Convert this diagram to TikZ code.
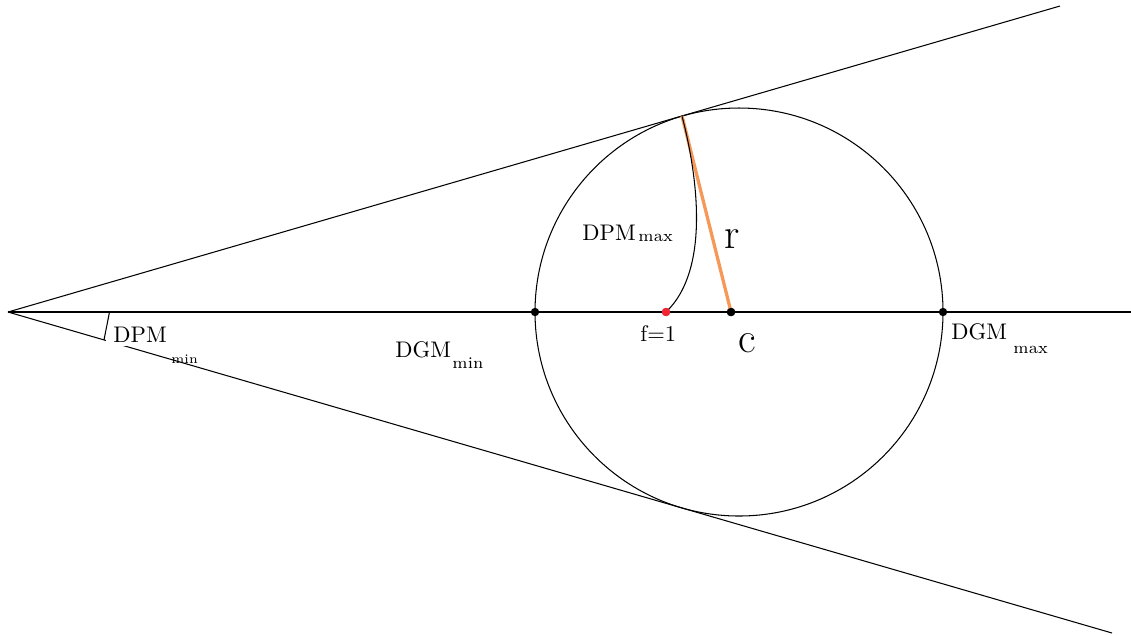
\documentclass[tikz,border=0pt]{standalone}
\usepackage{tikz}
\definecolor{myorange}{RGB}{246,152,88}
\definecolor{myred}{RGB}{240,36,52}
\begin{document}
\begin{tikzpicture}[x=0.43pt,y=-0.43pt,
  thinline/.style={line width=0.45pt},
  dotb/.style={circle,fill=black,inner sep=0pt,minimum size=3.6pt},
  dotr/.style={circle,fill=myred,inner sep=0pt,minimum size=3.6pt},
  lbl/.style={inner sep=0pt,anchor=base west,font=\fontsize{9.7}{11}\selectfont},
  sub/.style={inner sep=0pt,anchor=base west,font=\scriptsize},
  big/.style={inner sep=0pt,anchor=base west,font=\fontsize{18.5}{20}\selectfont}]
\useasboundingbox (0,0) rectangle (1131,635);
% points
\coordinate (apex) at (8,312);
\coordinate (ctr) at (739,312);
\coordinate (tp) at (682,116);
\coordinate (upend) at (1060,6);
\coordinate (lowend) at (1112,633);
\coordinate (axend) at (1131,312);
\coordinate (angA) at (109.5,312);
\coordinate (angB) at (104,339.9);
% lines
\draw[thinline] (apex) -- (upend);
\draw[thinline] (apex) -- (lowend);
\draw[thinline] (apex) -- (axend);
\draw[thinline] (ctr) circle[radius=204];
% nodes on axis
\node[dotr] (f) at (666,312) {};
\node[dotb] (c) at (731,312) {};
\node[dotb] (l) at (535,312) {};
\node[dotb] (rr) at (943,312) {};
% radius and DPM max curve
\draw[myorange,line width=1.4pt] (tp) -- (c.center);
\draw[thinline] (tp) .. controls (696,170) and (712,268) .. (f.center);
\node[dotb] at (c) {};
\node[dotr] at (f) {};
% labels
\node[lbl,fill=white,inner xsep=3pt,inner ysep=1.6pt] (dpmmin) at (106,342) {DPM};
\node[sub,font=\fontsize{5.6}{6}\selectfont] (dpmminsub) at (171,363) {min};
\node[lbl] (dgmmin) at (395,357) {DGM};
\node[sub] (dgmminsub) at (452,368.5) {min};
\node[lbl] (dgmmax) at (951,339) {DGM};
\node[sub] (dgmmaxsub) at (1013,353) {max};
\node[lbl] (dpmmax) at (582,240) {DPM};
\node[sub] (dpmmaxsub) at (638,241.5) {max};
\node[lbl] (flbl) at (640,341.5) {f=1};
\node[big] (rlbl) at (724,248.3) {r};
\node[big] (clbl) at (738,352) {c};
% angle mark
\draw[thinline] (angA) -- (angB);
\end{tikzpicture}
\end{document}
